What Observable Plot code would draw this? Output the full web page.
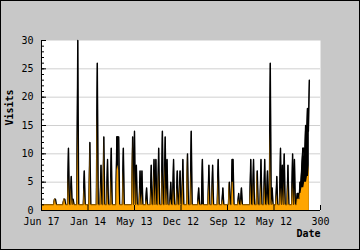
<!DOCTYPE html>
<html>
<head>
<meta charset="utf-8">
<script src="https://cdn.jsdelivr.net/npm/d3@7"></script>
<script src="https://cdn.jsdelivr.net/npm/@observablehq/plot@0.6"></script>
<style>
  html, body { margin: 0; padding: 0; background: #c8c8c8; }
  #chart svg { display: block; outline: 1px solid #000; outline-offset: -1px; }
</style>
</head>
<body>
<div id="chart"></div>
<script>
// Daily visits (black) and unique visitors (orange), index 0..288
const visits = [
  1,1,1,1,1,1,1,1,1,1,1,1,1,1,2,2,1,1,1,1,
  1,1,1,1,2,2,1,1,1,11,1,1,6,1,2,1,1,1,1,30,
  1,1,1,1,1,1,7,1,1,1,1,1,12,1,1,1,1,1,1,1,
  26,1,1,1,8,1,1,13,1,1,1,9,1,1,1,11,1,1,1,1,
  1,13,13,13,1,1,1,1,11,1,1,1,1,1,1,1,1,1,13,1,
  14,1,8,1,1,1,7,1,7,1,1,1,1,4,1,1,1,1,8,1,
  1,9,1,9,1,1,11,1,1,1,14,1,1,13,1,9,1,1,1,5,
  1,1,9,1,1,1,7,1,1,7,1,1,9,1,1,1,1,10,1,1,
  1,14,1,1,1,1,1,1,1,4,1,1,1,9,1,1,1,1,1,1,
  8,1,1,1,8,1,1,1,1,1,9,1,1,1,1,4,1,1,1,1,
  1,1,5,1,1,9,9,1,1,1,1,1,3,1,1,4,1,1,1,1,
  1,1,1,1,1,9,1,1,9,1,1,1,7,1,1,1,9,1,1,1,
  9,1,1,7,1,1,26,1,4,1,1,1,1,6,1,1,1,11,1,8,
  1,10,1,1,1,8,1,1,1,1,10,1,9,1,1,3,3,2,5,5,
  8,11,11,9,15,12,18,14,23
];
const uniques = [
  1,1,1,1,1,1,1,1,1,1,1,1,1,1,2,2,1,1,1,1,
  1,1,1,1,2,2,1,1,1,6,1,1,4,1,2,1,1,1,1,15,
  1,1,1,1,1,1,4,1,1,1,1,1,12,1,1,1,1,1,1,1,
  17,1,1,1,5,1,1,13,1,1,1,5,1,1,1,6,1,1,1,1,
  1,7,8,7,1,1,1,1,7,1,1,1,1,1,1,1,1,1,13,1,
  8,1,5,1,1,1,4,1,3,1,1,1,1,2,1,1,1,1,4,1,
  1,7,1,5,1,1,7,1,1,1,7,1,1,8,1,4,1,1,1,2,
  1,1,4,1,1,1,4,1,1,5,1,1,6,1,1,1,1,10,1,1,
  1,7,1,1,1,1,1,1,1,2,1,1,1,1,1,1,1,1,1,1,
  5,1,1,1,5,1,1,1,1,1,6,1,1,1,1,2,1,1,1,1,
  1,1,5,1,1,5,5,1,1,1,1,1,2,1,1,2,1,1,1,1,
  1,1,1,1,1,5,1,1,5,1,1,1,7,1,1,1,5,1,1,1,
  5,1,1,3,1,1,14,1,2,1,1,1,1,3,1,1,1,4,1,4,
  1,5,1,1,1,5,1,1,1,1,5,1,4,1,1,2,2,2,3,3,
  4,4,4,5,5,5,6,6,8
];
const xTicks = [0, 50, 100, 150, 200, 250, 300];
const xTickLabels = ["Jun 17", "Jan 14", "May 13", "Dec 12", "Sep 12", "May 12", "300"];
const yTicks = [0, 5, 10, 15, 20, 25, 30];
const yGrid = [5, 10, 15, 20, 25];
const yMinor = d3.range(0, 31);

const data = visits.map((v, i) => ({i, v, u: uniques[i]}));

const W = 360, H = 250;
const mL = 41, mR = 40, mT = 40, mB = 40;
const plotW = W - mL - mR, plotH = H - mT - mB;
const font = "DejaVu Sans Mono";

const chart = Plot.plot({
  width: W, height: H,
  marginLeft: mL, marginRight: mR, marginTop: mT, marginBottom: mB,
  style: {background: "#c8c8c8", color: "#000", fontFamily: font, fontSize: "10px"},
  x: {domain: [0, 300]},
  y: {domain: [0, 30]},
  marks: [
    Plot.frame({fill: "white", stroke: "none"}),
    Plot.ruleY(yGrid, {stroke: "#d0d0d0"}),
    Plot.areaY(data, {x: "i", y: "v", fill: "#000"}),
    Plot.lineY(data, {x: "i", y: "v", stroke: "#000", strokeWidth: 1.4}),
    Plot.areaY(data, {x: "i", y: "u", fill: "#ffa500"}),
    Plot.lineY(data, {x: "i", y: "v", stroke: "#000", strokeWidth: 0.6, strokeOpacity: 0.7}),
    Plot.ruleX([0], {stroke: "#000"}),
    Plot.ruleY([0], {stroke: "#000"}),
    Plot.tickY(yMinor, {y: d => d, stroke: "#000", insetRight: plotW - 3}),
    Plot.tickY(yTicks, {y: d => d, stroke: "#000", insetRight: plotW - 5}),
    Plot.tickX(xTicks, {x: d => d, stroke: "#000", insetTop: plotH - 5}),
    Plot.axisY({ticks: yTicks, tickSize: 0, tickPadding: 8, label: null, fontSize: 10}),
    Plot.axisX({ticks: xTicks, tickSize: 0, tickPadding: 7, label: null, fontSize: 10,
      tickFormat: d => xTickLabels[xTicks.indexOf(d)]}),
    Plot.text(["Visits"], {frameAnchor: "left", rotate: -90, dx: -32, fontWeight: "bold", fontSize: 10}),
    Plot.text(["Date"], {frameAnchor: "bottom-right", textAnchor: "end", dx: 0, dy: 26, fontWeight: "bold", fontSize: 10})
  ]
});
document.getElementById("chart").appendChild(chart);
</script>
</body>
</html>
